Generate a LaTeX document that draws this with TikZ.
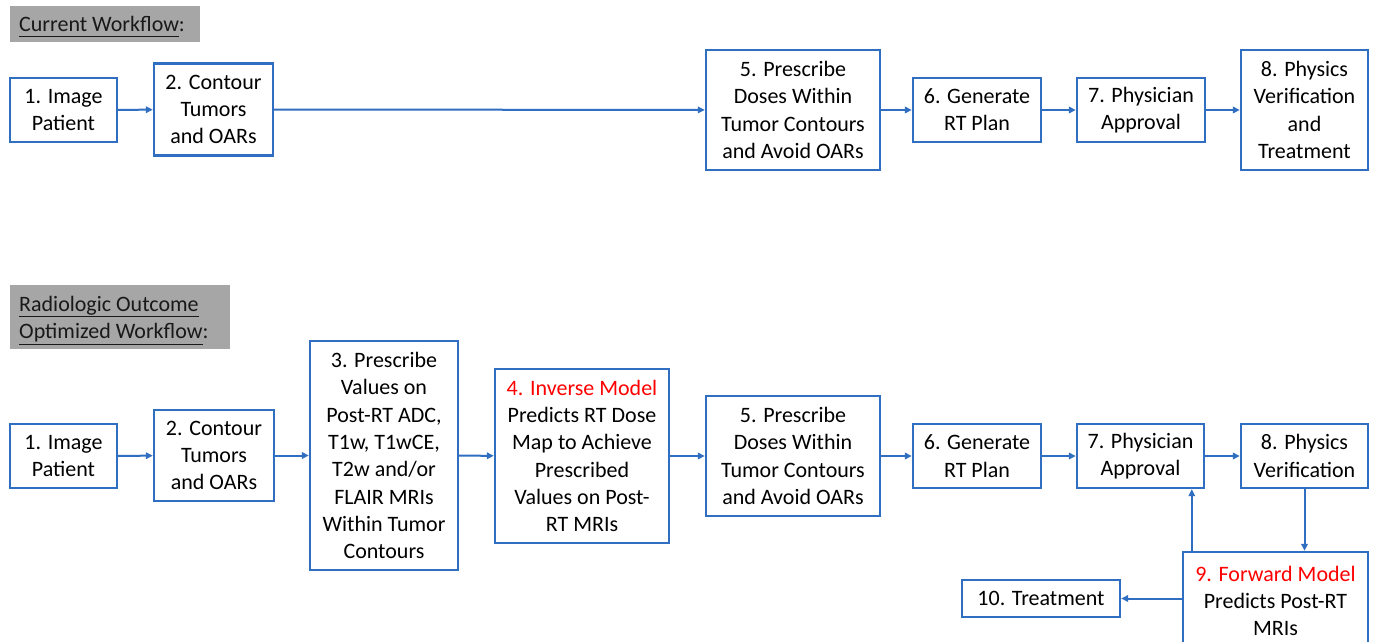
\documentclass[tikz,border=0pt]{standalone}
\usepackage{fontspec}
\setmainfont{Carlito}
\usetikzlibrary{arrows.meta}
\definecolor{bblue}{RGB}{47,110,192}
\definecolor{hgray}{RGB}{166,166,166}
\definecolor{tred}{RGB}{255,0,0}
\newcommand{\ulx}[1]{\underline{\smash{#1}\vphantom{g}}}
\begin{document}
\begin{tikzpicture}[x=1pt,y=-1pt,
  box/.style={draw=bblue,line width=2.4pt,fill=white,inner sep=0pt,align=center,
    font=\fontsize{22}{27.3}\selectfont,text=black},
  hdr/.style={fill=hgray,inner sep=0pt,align=left,anchor=north west},
  hdrt/.style={anchor=west,inner sep=0pt,align=left,font=\fontsize{22}{27.3}\selectfont,text=black!90},
  arr/.style={draw=bblue,line width=2pt,-{Triangle[length=7pt,width=6.5pt]}}]
\useasboundingbox (0,0) rectangle (1375,642);
\fill[white] (0,0) rectangle (1375,642);
% headers
\node[hdr,minimum width=190pt,minimum height=36pt] (h1) at (10,6) {};
\node[hdrt] (h1t) at (19,29) {\ulx{Current Workflow}:};
\node[hdr,minimum width=220pt,minimum height=64pt] (h2) at (10,285) {};
\node[hdrt] (h2t) at (19,322.5) {\ulx{Radiologic Outcome}\\\ulx{Optimized Workflow}:};
% top row
\node[box,minimum width=107pt,minimum height=64pt] (a1) at (63.5,110) {1. Image\\Patient};
\node[box,minimum width=119pt,minimum height=92pt] (a2) at (213.5,109.5) {2. Contour\\Tumors\\and OARs};
\node[box,minimum width=174pt,minimum height=120pt] (a5) at (793,110) {5. Prescribe\\Doses Within\\Tumor Contours\\and Avoid OARs};
\node[box,minimum width=128pt,minimum height=64pt] (a6) at (977,110) {6. Generate\\RT Plan};
\node[box,minimum width=128pt,minimum height=64pt] (a7) at (1141,110) {7. Physician\\Approval};
\node[box,minimum width=127pt,minimum height=120pt] (a8) at (1304.5,110) {8. Physics\\Verification\\and\\Treatment};
\draw[arr] (a1) -- (a2);
\draw[arr] (a2) -- (a5);
\draw[arr] (a5) -- (a6);
\draw[arr] (a6) -- (a7);
\draw[arr] (a7) -- (a8);
% bottom row
\node[box,minimum width=107pt,minimum height=64pt] (b1) at (63.5,456) {1. Image\\Patient};
\node[box,minimum width=120pt,minimum height=91pt] (b2) at (214,455.5) {2. Contour\\Tumors\\and OARs};
\node[box,minimum width=148pt,minimum height=229pt] (b3) at (384,455.5) {3. Prescribe\\Values on\\Post-RT ADC,\\T1w, T1wCE,\\T2w and/or\\FLAIR MRIs\\Within Tumor\\Contours};
\node[box,minimum width=174pt,minimum height=174pt] (b4) at (582,456) {\textcolor{tred}{4. Inverse Model}\\Predicts RT Dose\\Map to Achieve\\Prescribed\\Values on Post-\\RT MRIs};
\node[box,minimum width=174pt,minimum height=120pt] (b5) at (793,456) {5. Prescribe\\Doses Within\\Tumor Contours\\and Avoid OARs};
\node[box,minimum width=128pt,minimum height=64pt] (b6) at (977,456) {6. Generate\\RT Plan};
\node[box,minimum width=127pt,minimum height=64pt] (b7) at (1140.5,456) {7. Physician\\Approval};
\node[box,minimum width=127pt,minimum height=64pt] (b8) at (1304.5,456) {8. Physics\\Verification};
\node[box,minimum width=185pt,minimum height=98pt] (b9) at (1275.5,601) {\textcolor{tred}{9. Forward Model}\\Predicts Post-RT\\MRIs};
\node[box,minimum width=158pt,minimum height=37pt] (b10) at (1041,598.5) {10. Treatment};
\draw[arr] (b1) -- (b2);
\draw[arr] (b2) -- (b3);
\draw[arr] (b3) -- (b4);
\draw[arr] (b4) -- (b5);
\draw[arr] (b5) -- (b6);
\draw[arr] (b6) -- (b7);
\draw[arr] (b7) -- (b8);
\draw[arr] (b8.south) -- (b8.south |- b9.north);
\coordinate (c9) at ([xshift=10pt]b9.north west);
\draw[arr] (c9) -- (c9 |- b7.south);
\draw[arr] (b9.west |- b10.east) -- (b10.east);
\end{tikzpicture}
\end{document}
